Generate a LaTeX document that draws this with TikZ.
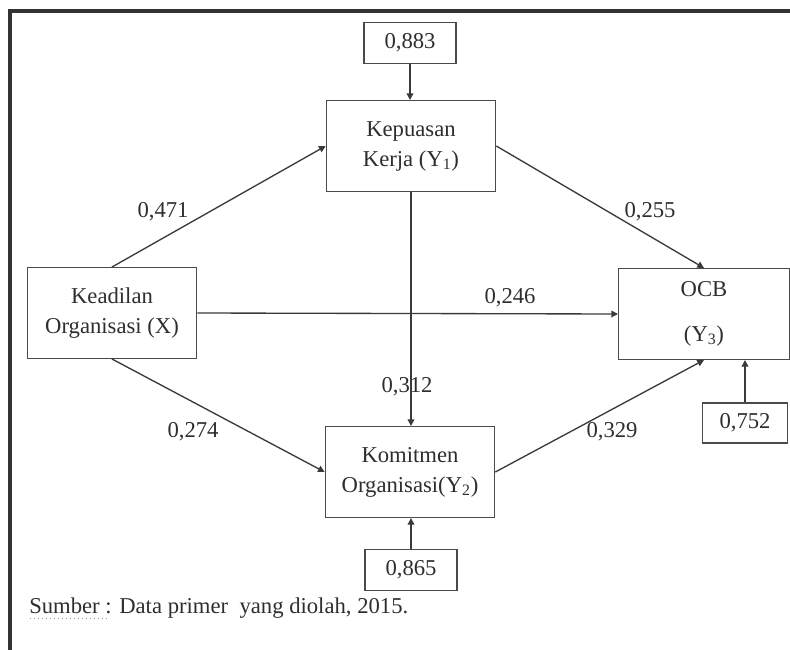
\documentclass[tikz,border=0pt]{standalone}
\usepackage{fontspec}
\setmainfont{Liberation Serif}
\usetikzlibrary{arrows.meta,calc}
\definecolor{pathline}{HTML}{3A3A3A}
\definecolor{boxline}{HTML}{4A4A4A}
\definecolor{inktext}{HTML}{2E2E2E}
\definecolor{spellgreen}{HTML}{7FA87F}
\tikzset{
  varbox/.style={draw=boxline, line width=1pt, fill=white, align=center, text=inktext,
                 minimum width=127pt, minimum height=68pt, inner sep=2pt,
                 font=\fontsize{17}{22.5}\selectfont},
  errbox/.style={draw=boxline, line width=1pt, fill=white, text=inktext,
                 minimum width=69pt, minimum height=31pt, inner sep=2pt,
                 font=\fontsize{17}{20}\selectfont},
  coef/.style={text=inktext, inner sep=0pt, font=\fontsize{17}{20}\selectfont},
  parr/.style={-{Triangle[length=5pt,width=5pt]}, line width=1pt, color=pathline}}

\begin{document}
\begin{tikzpicture}[x=0.75pt,y=-0.75pt]
  \useasboundingbox (0,0) rectangle (790,650);
  % frame
  \draw[line width=2.4pt, color=black!80] (10,650) -- (10,11) -- (790,11);
  % variables
  \node[varbox] (y1) at (411,146) {Kepuasan\\Kerja (Y\textsubscript{1})};
  \node[varbox] (x)  at (112,313) {Keadilan\\Organisasi (X)};
  \node[varbox, minimum width=128pt] (y3) at (704,314) {OCB\\[11pt](Y\textsubscript{3})};
  \node[varbox] (y2) at (410,472) {Komitmen\\Organisasi(Y\textsubscript{2})};
  % residuals
  \node[errbox] (e1) at (410,43) {0,883};
  \node[errbox] (e2) at (411,570) {0,865};
  \node[errbox, minimum width=64pt, minimum height=30pt] (e3) at (745,423) {0,752};
  % paths
  \draw[parr] (e1.south) -- (e1.south |- y1.north);
  \draw[parr] (x.north) -- (y1.west);
  \draw[parr] (y1.east) -- (y3.north);
  \draw[parr] (x.east) -- (y3.west);
  \draw[parr] (y1.south) -- (y1.south |- y2.north);
  \draw[parr] (x.south) -- (y2.west);
  \draw[parr] (y2.east) -- (y3.south);
  \draw[parr] (e2.north) -- (e2.north |- y2.south);
  \draw[parr] (e3.north) -- (e3.north |- y3.south);
  % coefficients
  \node[coef] (c1) at (163,212) {0,471};
  \node[coef] (c2) at (650,212) {0,255};
  \node[coef] (c3) at (510,298) {0,246};
  \node[coef] (c4) at (407,387) {0,312};
  \node[coef] (c5) at (193,432) {0,274};
  \node[coef] (c6) at (612,432) {0,329};
  % source note
  \node[coef, anchor=west] (src) at (29,608) {Sumber : Data primer~ yang diolah, 2015.};
  \draw[spellgreen, dotted, line width=1pt] ($(src.base west)+(1,5)$) -- ++(80,0);
\end{tikzpicture}
\end{document}
